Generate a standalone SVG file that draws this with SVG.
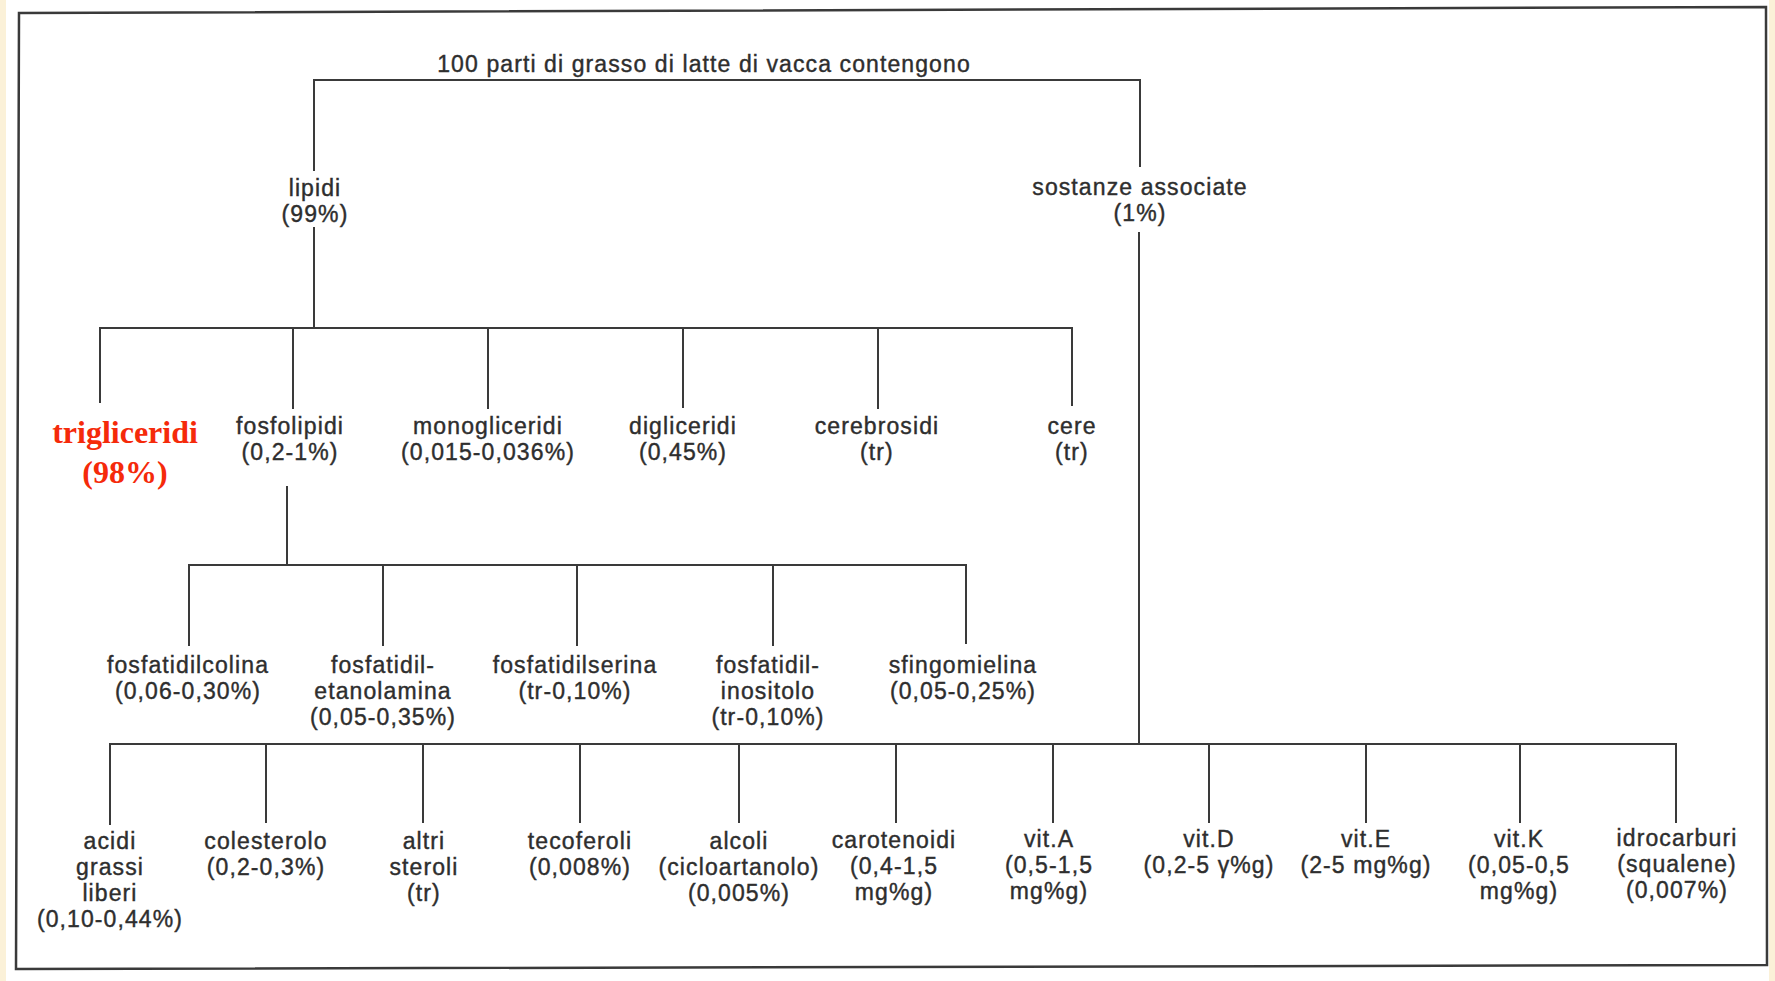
<svg xmlns="http://www.w3.org/2000/svg" width="1775" height="981" viewBox="0 0 1775 981">
<style>
.ln{fill:none;stroke:#3a3a3a;stroke-width:2;stroke-linecap:square}
.t{font-family:"Liberation Sans",Arial,sans-serif;font-size:23px;letter-spacing:1.1px;fill:#2e2e2e;stroke:#2e2e2e;stroke-width:0.4px;text-anchor:middle}
.red{font-family:"Liberation Serif","Times New Roman",serif;font-size:32px;font-weight:bold;fill:#f52a0a;text-anchor:middle}
</style>
<rect x="0" y="0" width="1775" height="981" fill="#ffffff"/>
<rect x="0" y="0" width="6" height="981" fill="#fbf1d8"/>
<rect x="1769" y="0" width="6" height="981" fill="#fbf1d8"/>
<polygon points="19,13 1766,7 1767,965 16,969" fill="none" stroke="#3a3a3a" stroke-width="2.5"/>

<g id="connectors" class="ln">
<path d="M314,170 V80 H1140 V166"/>
<path d="M314,228 V328"/>
<path d="M100,328 H1072"/>
<path d="M100,328 V402 M293,328 V408 M488,328 V408 M683,328 V407 M878,328 V408 M1072,328 V405"/>
<path d="M1139,233 V744"/>
<path d="M287,487 V565"/>
<path d="M189,565 H966"/>
<path d="M189,565 V645 M383,565 V645 M577,565 V645 M773,565 V645 M966,565 V643"/>
<path d="M110,744 H1676"/>
<path d="M110,744 V824 M266,744 V822 M423,744 V822 M580,744 V822 M739,744 V822 M896,744 V822 M1053,744 V822 M1209,744 V822 M1366,744 V822 M1520,744 V822 M1676,744 V822"/>
</g>

<g id="root"><text class="t" x="704" y="72">100 parti di grasso di latte di vacca contengono</text></g>
<g id="lipidi"><text class="t" x="315" y="196">lipidi</text><text class="t" x="315" y="222">(99%)</text></g>
<g id="sostanze"><text class="t" x="1140" y="195">sostanze associate</text><text class="t" x="1140" y="221">(1%)</text></g>

<g id="trigliceridi"><text class="red" x="125" y="443">trigliceridi</text><text class="red" x="125" y="483">(98%)</text></g>
<g id="fosfolipidi"><text class="t" x="290" y="434">fosfolipidi</text><text class="t" x="290" y="460">(0,2-1%)</text></g>
<g id="monogliceridi"><text class="t" x="488" y="434">monogliceridi</text><text class="t" x="488" y="460">(0,015-0,036%)</text></g>
<g id="digliceridi"><text class="t" x="683" y="434">digliceridi</text><text class="t" x="683" y="460">(0,45%)</text></g>
<g id="cerebrosidi"><text class="t" x="877" y="434">cerebrosidi</text><text class="t" x="877" y="460">(tr)</text></g>
<g id="cere"><text class="t" x="1072" y="434">cere</text><text class="t" x="1072" y="460">(tr)</text></g>

<g id="fosfatidilcolina"><text class="t" x="188" y="673">fosfatidilcolina</text><text class="t" x="188" y="699">(0,06-0,30%)</text></g>
<g id="fosfatidiletanolamina"><text class="t" x="383" y="673">fosfatidil-</text><text class="t" x="383" y="699">etanolamina</text><text class="t" x="383" y="725">(0,05-0,35%)</text></g>
<g id="fosfatidilserina"><text class="t" x="575" y="673">fosfatidilserina</text><text class="t" x="575" y="699">(tr-0,10%)</text></g>
<g id="fosfatidilinositolo"><text class="t" x="768" y="673">fosfatidil-</text><text class="t" x="768" y="699">inositolo</text><text class="t" x="768" y="725">(tr-0,10%)</text></g>
<g id="sfingomielina"><text class="t" x="963" y="673">sfingomielina</text><text class="t" x="963" y="699">(0,05-0,25%)</text></g>

<g id="acidi"><text class="t" x="110" y="849">acidi</text><text class="t" x="110" y="875">grassi</text><text class="t" x="110" y="901">liberi</text><text class="t" x="110" y="927">(0,10-0,44%)</text></g>
<g id="colesterolo"><text class="t" x="266" y="849">colesterolo</text><text class="t" x="266" y="875">(0,2-0,3%)</text></g>
<g id="steroli"><text class="t" x="424" y="849">altri</text><text class="t" x="424" y="875">steroli</text><text class="t" x="424" y="901">(tr)</text></g>
<g id="tecoferoli"><text class="t" x="580" y="849">tecoferoli</text><text class="t" x="580" y="875">(0,008%)</text></g>
<g id="alcoli"><text class="t" x="739" y="849">alcoli</text><text class="t" x="739" y="875">(cicloartanolo)</text><text class="t" x="739" y="901">(0,005%)</text></g>
<g id="carotenoidi"><text class="t" x="894" y="848">carotenoidi</text><text class="t" x="894" y="874">(0,4-1,5</text><text class="t" x="894" y="900">mg%g)</text></g>
<g id="vitA"><text class="t" x="1049" y="847">vit.A</text><text class="t" x="1049" y="873">(0,5-1,5</text><text class="t" x="1049" y="899">mg%g)</text></g>
<g id="vitD"><text class="t" x="1209" y="847">vit.D</text><text class="t" x="1209" y="873">(0,2-5 γ%g)</text></g>
<g id="vitE"><text class="t" x="1366" y="847">vit.E</text><text class="t" x="1366" y="873">(2-5 mg%g)</text></g>
<g id="vitK"><text class="t" x="1519" y="847">vit.K</text><text class="t" x="1519" y="873">(0,05-0,5</text><text class="t" x="1519" y="899">mg%g)</text></g>
<g id="idrocarburi"><text class="t" x="1677" y="846">idrocarburi</text><text class="t" x="1677" y="872">(squalene)</text><text class="t" x="1677" y="898">(0,007%)</text></g>
</svg>
